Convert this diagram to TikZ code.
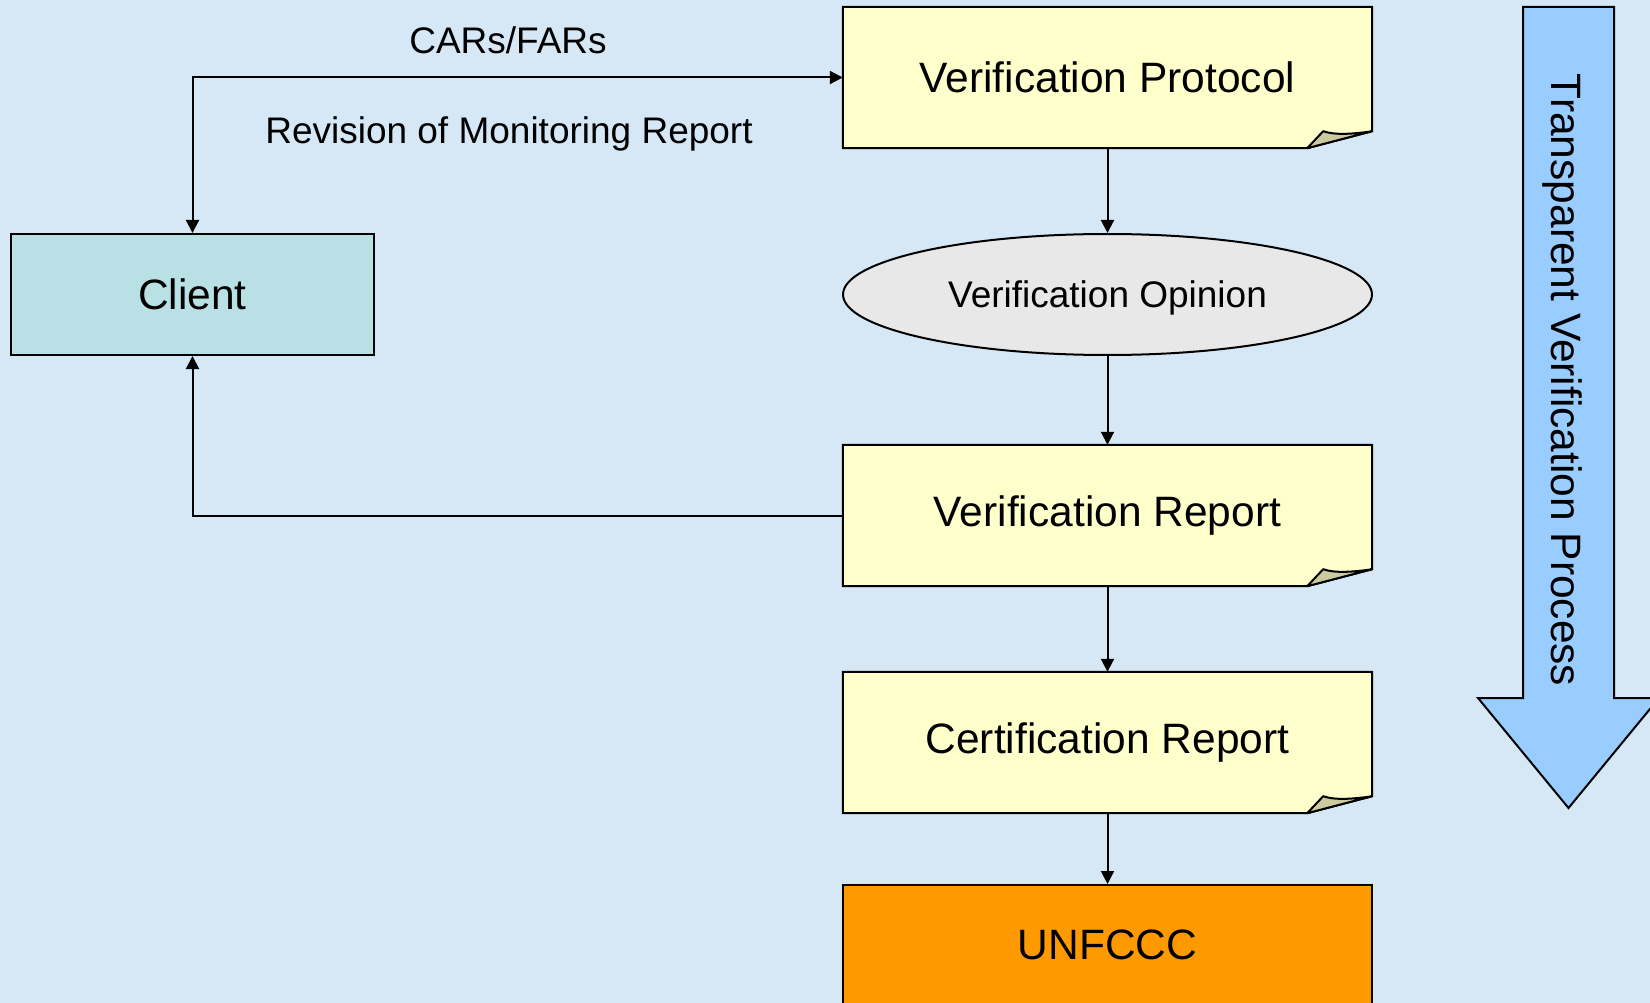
\documentclass[tikz,border=0pt]{standalone}
\usepackage{fontspec}
\setmainfont{Liberation Sans}
\usetikzlibrary{arrows.meta,shapes.geometric,calc}
\pgfdeclarelayer{bg}
\pgfdeclarelayer{shapes}
\pgfsetlayers{bg,shapes,main}
\definecolor{bgblue}{RGB}{214,232,246}
\definecolor{docyellow}{RGB}{255,255,204}
\definecolor{foldtan}{RGB}{204,202,160}
\definecolor{clientteal}{RGB}{185,224,228}
\definecolor{opgray}{RGB}{232,232,232}
\definecolor{unorange}{RGB}{255,153,0}
\definecolor{arrowblue}{RGB}{153,204,255}
\newcommand\myBig{\fontsize{42.5}{50}\selectfont}
\newcommand\mySmall{\fontsize{37}{44}\selectfont}
\newcommand\docshape[1]{%
  \begin{pgfonlayer}{shapes}
  \filldraw[fill=docyellow, line width=2pt] (#1.north west) -- (#1.north east) -- ([yshift=17pt]#1.south east) -- ([xshift=-65pt]#1.south east) -- (#1.south west) -- cycle;
  \filldraw[fill=foldtan, line width=2pt, line join=round] ([xshift=-65pt]#1.south east) -- ([xshift=-49pt,yshift=17pt]#1.south east) .. controls ([xshift=-38pt,yshift=13pt]#1.south east) and ([xshift=-20pt,yshift=14pt]#1.south east) .. ([yshift=17pt]#1.south east) -- cycle;
  \end{pgfonlayer}}
\tikzset{
  docnode/.style={minimum width=529pt, minimum height=141pt, inner sep=0pt, font=\myBig},
  boxnode/.style={draw, line width=2pt, inner sep=0pt},
  arr/.style={line width=2pt, -{Triangle[length=13pt,width=13pt]}},
  darr/.style={line width=2pt, {Triangle[length=13pt,width=13pt]}-{Triangle[length=13pt,width=13pt]}},
}
\begin{document}
\begin{tikzpicture}[x=1pt,y=-1pt]
\begin{pgfonlayer}{bg}
\fill[bgblue] (0,0) rectangle (1650,1003);
\end{pgfonlayer}
\useasboundingbox (0,0) rectangle (1650,1003);

% big arrow
\filldraw[fill=arrowblue, line width=2pt] (1523,7) -- (1614,7) -- (1614,698) -- (1659,698) -- (1568.5,808) -- (1478,698) -- (1523,698) -- cycle;
\node[rotate=-90, font=\myBig, inner sep=0pt] (tvp) at (1562,380) {Transparent Verification Process};

% nodes
\node[docnode] (vp) at (1107.5,77.5) {Verification Protocol};
\docshape{vp}
\node[ellipse, draw, line width=2pt, fill=opgray, minimum width=529pt, minimum height=121pt, inner sep=0pt, font=\mySmall, text depth=0pt] (vo) at (1107.5,294.5) {Verification Opinion};
\node[docnode] (vr) at (1107.5,515.5) {Verification Report};
\docshape{vr}
\node[docnode] (cr) at (1107.5,742.5) {Certification Report};
\docshape{cr}
\node[boxnode, fill=unorange, minimum width=529pt, minimum height=120pt, font=\myBig] (un) at (1107.5,945) {UNFCCC};
\node[boxnode, fill=clientteal, minimum width=363pt, minimum height=121pt, font=\myBig] (client) at (192.5,294.5) {Client};

% labels
\node[font=\mySmall, inner sep=0pt] (cars) at (508,40) {CARs/FARs};
\node[font=\mySmall, inner sep=0pt] (rev) at (509,134) {Revision of Monitoring Report};

% connectors
\draw[darr] (vp.west) -| (client.north);
\draw[arr] (vr.west) -| (client.south);
\draw[arr] (vp) -- (vo);
\draw[arr] (vo) -- (vr);
\draw[arr] (vr) -- (cr);
\draw[arr] (cr) -- (un);
\end{tikzpicture}
\end{document}
